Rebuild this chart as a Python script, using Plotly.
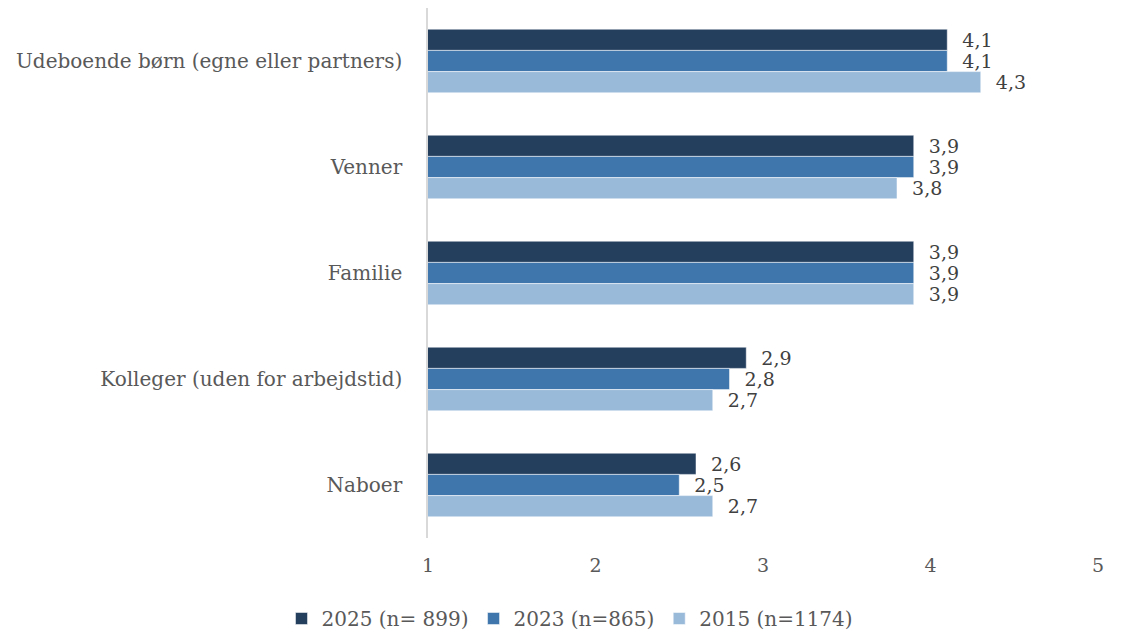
import plotly.graph_objects as go

categories = ["Udeboende børn (egne eller partners)", "Venner", "Familie",
              "Kolleger (uden for arbejdstid)", "Naboer"]
series_names = ["2025 (n= 899)", "2023 (n=865)", "2015 (n=1174)"]
v2025 = [4.1, 3.9, 3.9, 2.9, 2.6]
v2023 = [4.1, 3.9, 3.9, 2.8, 2.5]
v2015 = [4.3, 3.8, 3.9, 2.7, 2.7]
colors = ["#243F5E", "#3F76AC", "#9ABADA"]
tick_vals = [1, 2, 3, 4, 5]

font_family = "DejaVu Serif"
fig = go.Figure()
for name, vals, col in zip(series_names, [v2025, v2023, v2015], colors):
    fig.add_trace(go.Bar(
        y=categories, x=vals, name=name, orientation="h",
        marker=dict(color=col, line=dict(color="#ffffff", width=0.5)),
        texttemplate="  %{x:.1f}", textposition="outside",
        constraintext="none",
        textfont=dict(family=font_family, size=19, color="#404040"),
        cliponaxis=False,
    ))

fig.update_layout(
    width=1124, height=630,
    barmode="group", bargap=0.4, bargroupgap=0,
    separators=",.",
    plot_bgcolor="white", paper_bgcolor="white",
    margin=dict(l=420, r=34, t=0, b=100),
    font=dict(family=font_family, size=20, color="#595959"),
    xaxis=dict(range=[1, 5], tickvals=tick_vals, showgrid=False, zeroline=False,
               showline=False, ticks="", ticklabelstandoff=14,
               tickfont=dict(size=19, color="#595959")),
    yaxis=dict(autorange="reversed", showgrid=False, zeroline=False,
               showline=True, linecolor="#d9d9d9", linewidth=1.5, ticks="",
               ticklabelstandoff=20, tickfont=dict(size=20, color="#595959")),
    legend=dict(orientation="h", xref="container", x=0.5, xanchor="center",
                yref="container", y=0.0, yanchor="bottom",
                font=dict(size=20, color="#595959"), traceorder="normal",
                itemwidth=30),
)
fig.write_html("out.html")
